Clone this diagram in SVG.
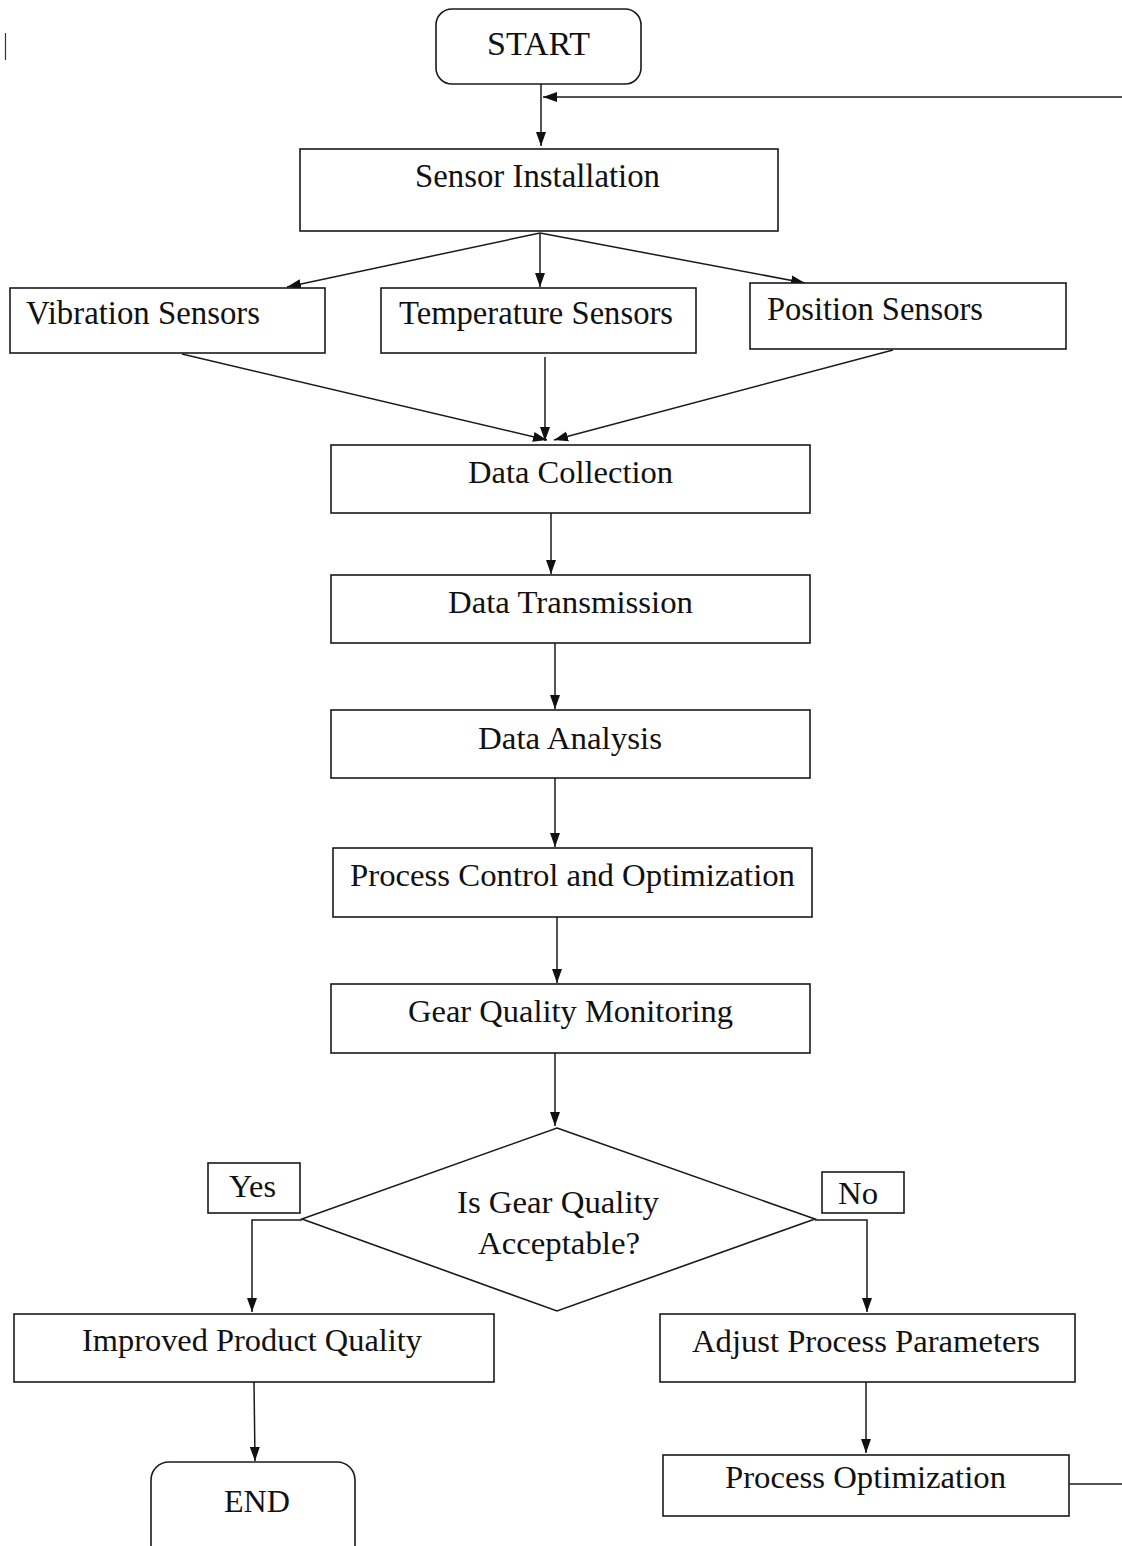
<svg xmlns="http://www.w3.org/2000/svg" width="1122" height="1546" viewBox="0 0 1122 1546">
<style>
.box{fill:#fff;stroke:#1a1a1a;stroke-width:1.6}
.t{font-family:"Liberation Serif","Times New Roman",serif;font-size:32px;fill:#111}
.tc{font-family:"Liberation Serif","Times New Roman",serif;font-size:33px;fill:#111}
.c{fill:none;stroke:#1a1a1a;stroke-width:1.5}
</style>
<defs>
<marker id="ah" markerUnits="userSpaceOnUse" markerWidth="14" markerHeight="14" viewBox="0 0 14 14" refX="14" refY="7" orient="auto">
<path d="M0,2 L14,7 L0,12 Z" fill="#111"/>
</marker>
</defs>
<rect width="1122" height="1546" fill="#fff"/>
<line x1="5.5" y1="33" x2="5.5" y2="60" stroke="#333" stroke-width="1.2"/>

<g id="connectors">
<line class="c" x1="541" y1="84" x2="541" y2="146" marker-end="url(#ah)"/>
<line class="c" x1="1122" y1="97" x2="543" y2="97" marker-end="url(#ah)" stroke="#444" stroke-width="2"/>
<line class="c" x1="540" y1="233" x2="287" y2="287" marker-end="url(#ah)"/>
<line class="c" x1="540" y1="233" x2="540" y2="287" marker-end="url(#ah)"/>
<line class="c" x1="540" y1="233" x2="805" y2="283" marker-end="url(#ah)"/>
<line class="c" x1="182" y1="354" x2="547" y2="440" marker-end="url(#ah)"/>
<line class="c" x1="545" y1="357" x2="545" y2="441" marker-end="url(#ah)"/>
<line class="c" x1="893" y1="350" x2="554" y2="440" marker-end="url(#ah)"/>
<line class="c" x1="551" y1="513" x2="551" y2="574" marker-end="url(#ah)"/>
<line class="c" x1="555" y1="643" x2="555" y2="709" marker-end="url(#ah)"/>
<line class="c" x1="555" y1="778" x2="555" y2="847" marker-end="url(#ah)"/>
<line class="c" x1="557" y1="917" x2="557" y2="983" marker-end="url(#ah)"/>
<line class="c" x1="555" y1="1053" x2="555" y2="1126" marker-end="url(#ah)"/>
<polyline class="c" points="302,1220 252,1220 252,1312" marker-end="url(#ah)"/>
<polyline class="c" points="815,1220 867,1220 867,1312" marker-end="url(#ah)"/>
<line class="c" x1="254" y1="1382" x2="255" y2="1461" marker-end="url(#ah)"/>
<line class="c" x1="866" y1="1382" x2="866" y2="1453" marker-end="url(#ah)"/>
<line class="c" x1="1069" y1="1484" x2="1122" y2="1484" stroke="#444" stroke-width="2"/>
</g>

<g id="start">
<rect class="box" x="436" y="9" width="205" height="75" rx="16"/>
<text class="tc" x="538.5" y="55" text-anchor="middle" textLength="103" lengthAdjust="spacingAndGlyphs">START</text>
</g>
<g id="sensor-installation">
<rect class="box" x="300" y="149" width="478" height="82"/>
<text class="tc" x="537.5" y="187" text-anchor="middle" textLength="245" lengthAdjust="spacingAndGlyphs">Sensor Installation</text>
</g>
<g id="vibration">
<rect class="box" x="10" y="288" width="315" height="65"/>
<text class="tc" x="26" y="324" textLength="234" lengthAdjust="spacingAndGlyphs">Vibration Sensors</text>
</g>
<g id="temperature">
<rect class="box" x="381" y="288" width="315" height="65"/>
<text class="tc" x="399" y="324" textLength="274" lengthAdjust="spacingAndGlyphs">Temperature Sensors</text>
</g>
<g id="position">
<rect class="box" x="750" y="283" width="316" height="66"/>
<text class="tc" x="767" y="320" textLength="216" lengthAdjust="spacingAndGlyphs">Position Sensors</text>
</g>
<g id="data-collection">
<rect class="box" x="331" y="445" width="479" height="68"/>
<text class="t" x="570.5" y="483" text-anchor="middle" textLength="205" lengthAdjust="spacingAndGlyphs">Data Collection</text>
</g>
<g id="data-transmission">
<rect class="box" x="331" y="575" width="479" height="68"/>
<text class="t" x="570.5" y="613" text-anchor="middle" textLength="245" lengthAdjust="spacingAndGlyphs">Data Transmission</text>
</g>
<g id="data-analysis">
<rect class="box" x="331" y="710" width="479" height="68"/>
<text class="t" x="570" y="749" text-anchor="middle" textLength="184" lengthAdjust="spacingAndGlyphs">Data Analysis</text>
</g>
<g id="process-control">
<rect class="box" x="333" y="848" width="479" height="69"/>
<text class="t" x="572.5" y="886" text-anchor="middle" textLength="445" lengthAdjust="spacingAndGlyphs">Process Control and Optimization</text>
</g>
<g id="gear-monitoring">
<rect class="box" x="331" y="984" width="479" height="69"/>
<text class="t" x="570.5" y="1022" text-anchor="middle" textLength="325" lengthAdjust="spacingAndGlyphs">Gear Quality Monitoring</text>
</g>
<g id="decision">
<polygon class="box" points="557,1128 815,1219 557,1311 302,1219"/>
<text class="t" x="558" y="1213" text-anchor="middle" textLength="202" lengthAdjust="spacingAndGlyphs">Is Gear Quality</text>
<text class="t" x="559" y="1254" text-anchor="middle" textLength="162" lengthAdjust="spacingAndGlyphs">Acceptable?</text>
</g>
<g id="yes-label">
<rect class="box" x="208" y="1163" width="92" height="50"/>
<text class="t" x="252.5" y="1197" text-anchor="middle" textLength="47" lengthAdjust="spacingAndGlyphs">Yes</text>
</g>
<g id="no-label">
<rect class="box" x="822" y="1172" width="82" height="41"/>
<text class="t" x="858" y="1204" text-anchor="middle" textLength="40" lengthAdjust="spacingAndGlyphs">No</text>
</g>
<g id="improved-quality">
<rect class="box" x="14" y="1314" width="480" height="68"/>
<text class="t" x="252" y="1351" text-anchor="middle" textLength="340" lengthAdjust="spacingAndGlyphs">Improved Product Quality</text>
</g>
<g id="end">
<rect class="box" x="151" y="1462" width="204" height="110" rx="18"/>
<text class="t" x="257" y="1512" text-anchor="middle" textLength="66" lengthAdjust="spacingAndGlyphs">END</text>
</g>
<g id="adjust-parameters">
<rect class="box" x="660" y="1314" width="415" height="68"/>
<text class="t" x="866" y="1352" text-anchor="middle" textLength="348" lengthAdjust="spacingAndGlyphs">Adjust Process Parameters</text>
</g>
<g id="process-optimization">
<rect class="box" x="663" y="1455" width="406" height="61"/>
<text class="t" x="865.5" y="1488" text-anchor="middle" textLength="281" lengthAdjust="spacingAndGlyphs">Process Optimization</text>
</g>
</svg>
